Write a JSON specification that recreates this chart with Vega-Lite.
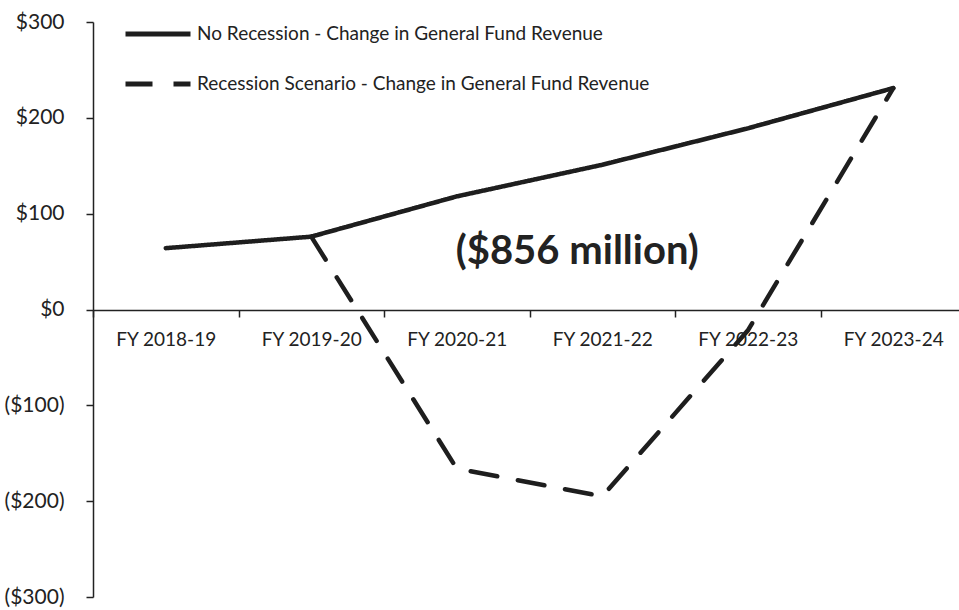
{
  "$schema": "https://vega.github.io/schema/vega-lite/v6.json",
  "width": 873,
  "height": 575,
  "autosize": {"type": "none"},
  "padding": {"left": 93, "top": 22, "right": 0, "bottom": 13},
  "background": "white",
  "config": {
    "view": {"stroke": null},
    "font": "Lato",
    "axis": {"labelFont": "Lato", "labelColor": "#222222", "domainColor": "#222222", "tickColor": "#222222", "grid": false, "title": null}
  },
  "datasets": {
    "lines": [
      {"year": "FY 2018-19", "series": "No Recession - Change in General Fund Revenue", "value": 64},
      {"year": "FY 2019-20", "series": "No Recession - Change in General Fund Revenue", "value": 76},
      {"year": "FY 2020-21", "series": "No Recession - Change in General Fund Revenue", "value": 118},
      {"year": "FY 2021-22", "series": "No Recession - Change in General Fund Revenue", "value": 151},
      {"year": "FY 2022-23", "series": "No Recession - Change in General Fund Revenue", "value": 189},
      {"year": "FY 2023-24", "series": "No Recession - Change in General Fund Revenue", "value": 231},
      {"year": "FY 2019-20", "series": "Recession Scenario - Change in General Fund Revenue", "value": 76},
      {"year": "FY 2020-21", "series": "Recession Scenario - Change in General Fund Revenue", "value": -166},
      {"year": "FY 2021-22", "series": "Recession Scenario - Change in General Fund Revenue", "value": -195},
      {"year": "FY 2022-23", "series": "Recession Scenario - Change in General Fund Revenue", "value": -22},
      {"year": "FY 2023-24", "series": "Recession Scenario - Change in General Fund Revenue", "value": 231}
    ],
    "note": [
      {"year": "FY 2021-22", "value": 60, "label": "($856 million)"}
    ]
  },
  "layer": [
    {
      "data": {"name": "lines"},
      "mark": {"type": "line", "stroke": "#1e1e1e", "strokeWidth": 4.5, "strokeCap": "round"},
      "encoding": {
        "x": {
          "field": "year", "type": "nominal", "sort": null,
          "scale": {"type": "band", "domain": ["FY 2018-19", "FY 2019-20", "FY 2020-21", "FY 2021-22", "FY 2022-23", "FY 2023-24"], "paddingInner": 0, "paddingOuter": 0},
          "axis": {"orient": "bottom", "offset": -287, "tickBand": "extent", "tickSize": 7, "labelPadding": 13, "labelFontSize": 19, "labelAngle": 0, "domainWidth": 1.5, "tickWidth": 1.5}
        },
        "y": {
          "field": "value", "type": "quantitative",
          "scale": {"domain": [-300, 300], "nice": false, "zero": false},
          "axis": {"values": [-300, -200, -100, 0, 100, 200, 300], "tickSize": 7, "labelPadding": 22, "labelFontSize": 21, "domainWidth": 1.5, "tickWidth": 1.5,
                   "labelExpr": "datum.value < 0 ? '($' + format(-datum.value, 'd') + ')' : '$' + format(datum.value, 'd')"}
        },
        "strokeDash": {
          "field": "series", "type": "nominal",
          "scale": {"domain": ["No Recession - Change in General Fund Revenue", "Recession Scenario - Change in General Fund Revenue"], "range": [[1, 0], [27, 21]]},
          "legend": {"orient": "none", "legendX": 30, "legendY": -23, "title": null, "direction": "vertical",
                     "symbolType": "stroke", "symbolSize": 4225, "symbolStrokeWidth": 5, "symbolStrokeColor": "#1e1e1e",
                     "labelFontSize": 19, "labelColor": "#222222", "labelFont": "Lato", "labelLimit": 700, "rowPadding": 5, "labelOffset": 4}
        }
      }
    },
    {
      "data": {"name": "note"},
      "mark": {"type": "text", "font": "Lato", "fontWeight": "bold", "fontSize": 40, "color": "#222222", "dx": -25, "align": "center", "baseline": "middle"},
      "encoding": {
        "x": {"field": "year", "type": "nominal", "sort": null},
        "y": {"field": "value", "type": "quantitative"},
        "text": {"field": "label"}
      }
    }
  ]
}
